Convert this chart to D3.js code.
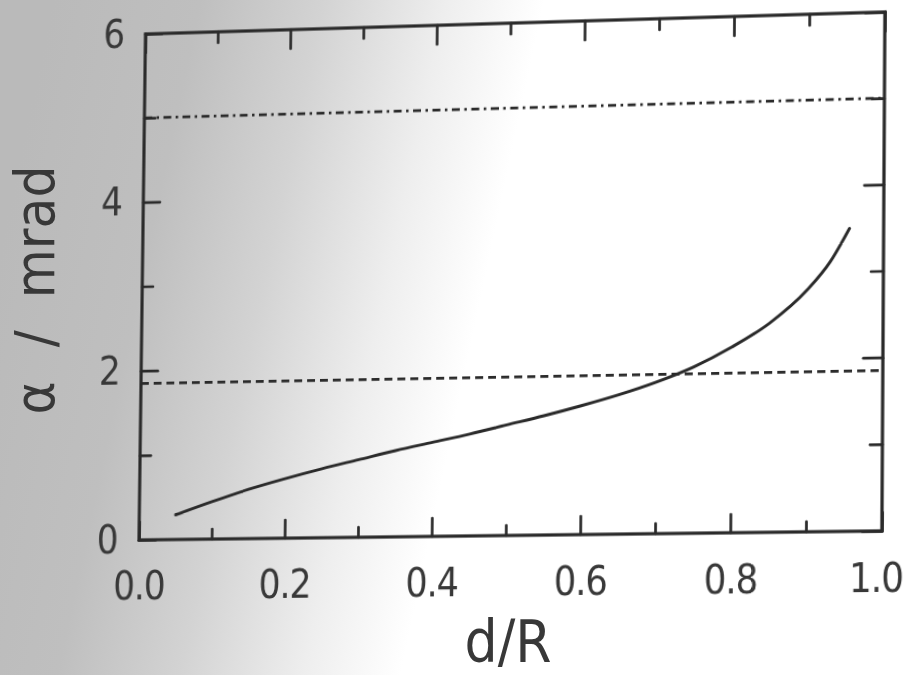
<!DOCTYPE html>
<html>
<head>
<meta charset="utf-8">
<script src="https://cdn.jsdelivr.net/npm/d3@7"></script>
<style>
  html, body { margin: 0; padding: 0; background: #fff; }
  #stage { position: relative; width: 908px; height: 675px; overflow: hidden; }
  #stage svg { position: absolute; left: 0; top: 0; overflow: visible; }
  #plot { transform-origin: 0 0; }
  text { font-family: "DejaVu Sans Condensed", "Liberation Sans Narrow", "DejaVu Sans", sans-serif; font-stretch: condensed; }
</style>
</head>
<body>
<div id="stage"></div>
<script>
// Beam deflection angle versus relative distance d/R
const ratio = [0.05, 0.10, 0.15, 0.20, 0.25, 0.30, 0.35, 0.40, 0.45, 0.50, 0.55, 0.60, 0.65, 0.70, 0.75, 0.80, 0.85, 0.90, 0.93, 0.955];
const alpha = [0.29, 0.44, 0.58, 0.70, 0.81, 0.91, 1.01, 1.10, 1.19, 1.29, 1.39, 1.50, 1.62, 1.76, 1.93, 2.15, 2.42, 2.80, 3.12, 3.50];

// Constant reference levels across the full range
const refRatio = [0.0, 1.0];
const dashDotAlpha = [5.0, 5.0];
const dashedAlpha = [1.85, 1.85];

// Ticks and labels
const xMajor = [0.0, 0.2, 0.4, 0.6, 0.8, 1.0];
const xMinor = [0.1, 0.3, 0.5, 0.7, 0.9];
const xLabels = ["0.0", "0.2", "0.4", "0.6", "0.8", "1.0"];
const yMajor = [0, 2, 4, 6];
const yMinor = [1, 3, 5];
const yLabels = ["0", "2", "4", "6"];
const xTitle = "d/R";
const yTitleParts = ["α", "/", "mrad"];

const width = 908, height = 675;
const ink = "#2a2a2a", textInk = "#383838";

// Frame in local plot coordinates
const L = 150, T = 30, R = 890, B = 535;

// Corners of the frame on the page (the printed page is slightly skewed)
const pageCorners = [[145.5, 34], [885, 12], [139, 540], [882, 531]];

const stage = d3.select("#stage");

// ---------- background sheet ----------
const bg = stage.append("svg").attr("width", width).attr("height", height);
const defs = bg.append("defs");
const grad = defs.append("linearGradient")
  .attr("id", "sheet").attr("gradientUnits", "userSpaceOnUse")
  .attr("x1", 0).attr("y1", 250).attr("x2", 470).attr("y2", 350);
[[0, "#bababa"], [0.3, "#bfbfbf"], [0.55, "#d3d3d3"], [0.8, "#eeeeee"], [1, "#ffffff"]]
  .forEach(([o, c]) => grad.append("stop").attr("offset", o).attr("stop-color", c));
bg.append("rect").attr("width", width).attr("height", height).attr("fill", "url(#sheet)");

// Axis titles
bg.append("text")
  .attr("x", 508).attr("y", 662)
  .attr("text-anchor", "middle")
  .attr("font-size", 58)
  .attr("fill", textInk)
  .text(xTitle);

const yTitle = bg.append("text")
  .attr("transform", "translate(54,290) rotate(-90)")
  .attr("text-anchor", "middle")
  .attr("font-size", 56)
  .attr("fill", textInk);
yTitle.append("tspan").text(yTitleParts[0]);
yTitle.append("tspan").attr("dx", 34).text(yTitleParts[1]);
yTitle.append("tspan").attr("dx", 32).text(yTitleParts[2]);

// ---------- plot (projected onto the skewed page) ----------
function solve(A, b) {
  const n = b.length;
  const M = A.map((row, i) => row.concat([b[i]]));
  for (let c = 0; c < n; c++) {
    let p = c;
    for (let r = c + 1; r < n; r++) if (Math.abs(M[r][c]) > Math.abs(M[p][c])) p = r;
    [M[c], M[p]] = [M[p], M[c]];
    for (let r = 0; r < n; r++) {
      if (r === c) continue;
      const f = M[r][c] / M[c][c];
      for (let k = c; k <= n; k++) M[r][k] -= f * M[c][k];
    }
  }
  return M.map((row, i) => row[n] / row[i]);
}
function homography(src, dst) {
  const A = [], b = [];
  src.forEach(([x, y], i) => {
    const [X, Y] = dst[i];
    A.push([x, y, 1, 0, 0, 0, -x * X, -y * X]); b.push(X);
    A.push([0, 0, 0, x, y, 1, -x * Y, -y * Y]); b.push(Y);
  });
  return solve(A, b);
}
const h = homography([[L, T], [R, T], [L, B], [R, B]], pageCorners);

const svg = stage.append("svg").attr("id", "plot")
  .attr("width", width).attr("height", height)
  .style("transform", `matrix3d(${h[0]},${h[3]},0,${h[6]},${h[1]},${h[4]},0,${h[7]},0,0,1,0,${h[2]},${h[5]},0,1)`);

const x = d3.scaleLinear().domain([0, 1]).range([L, R]);
const y = d3.scaleLinear().domain([0, 6]).range([B, T]);

function styleAxis(g) {
  g.select(".domain").remove();
  g.selectAll(".tick line").attr("stroke", ink).attr("stroke-width", 2.7).attr("stroke-linecap", "round");
  g.selectAll(".tick text").attr("fill", textInk).attr("font-size", 39)
    .attr("letter-spacing", -1).attr("font-family", null);
}

// bottom
svg.append("g").attr("transform", `translate(0,${B})`)
  .call(d3.axisBottom(x).tickValues(xMajor).tickSize(-18).tickPadding(31)
    .tickFormat(d => xLabels[xMajor.indexOf(d)]))
  .call(styleAxis)
  .call(g => g.selectAll(".tick text").filter(d => d === 1).attr("dx", -6));
svg.append("g").attr("transform", `translate(0,${B})`)
  .call(d3.axisBottom(x).tickValues(xMinor).tickSize(-10).tickFormat(""))
  .call(styleAxis);
// top
svg.append("g").attr("transform", `translate(0,${T})`)
  .call(d3.axisTop(x).tickValues(xMajor).tickSize(-19).tickFormat(""))
  .call(styleAxis);
svg.append("g").attr("transform", `translate(0,${T})`)
  .call(d3.axisTop(x).tickValues(xMinor).tickSize(-11).tickFormat(""))
  .call(styleAxis);
// left
svg.append("g").attr("transform", `translate(${L},0)`)
  .call(d3.axisLeft(y).tickValues(yMajor).tickSize(-17).tickPadding(22)
    .tickFormat(d => yLabels[yMajor.indexOf(d)]))
  .call(styleAxis);
svg.append("g").attr("transform", `translate(${L},0)`)
  .call(d3.axisLeft(y).tickValues(yMinor).tickSize(-11).tickFormat(""))
  .call(styleAxis);
// right
svg.append("g").attr("transform", `translate(${R},0)`)
  .call(d3.axisRight(y).tickValues(yMajor).tickSize(-19).tickFormat(""))
  .call(styleAxis);
svg.append("g").attr("transform", `translate(${R},0)`)
  .call(d3.axisRight(y).tickValues(yMinor).tickSize(-12).tickFormat(""))
  .call(styleAxis);

// frame
svg.append("rect")
  .attr("x", L).attr("y", T).attr("width", R - L).attr("height", B - T)
  .attr("fill", "none").attr("stroke", ink).attr("stroke-width", 3.2);

// reference levels
const refLine = d3.line().x(d => x(d[0])).y(d => y(d[1]));
svg.append("path")
  .datum(refRatio.map((r, i) => [r, dashDotAlpha[i]]))
  .attr("d", refLine)
  .attr("fill", "none").attr("stroke", ink).attr("stroke-width", 2.7)
  .attr("stroke-dasharray", "8,4.5,2.5,4.5");
svg.append("path")
  .datum(refRatio.map((r, i) => [r, dashedAlpha[i]]))
  .attr("d", refLine)
  .attr("fill", "none").attr("stroke", ink).attr("stroke-width", 2.7)
  .attr("stroke-dasharray", "8,5");

// computed deflection curve
svg.append("path")
  .datum(ratio.map((r, i) => [r, alpha[i]]))
  .attr("d", d3.line().x(d => x(d[0])).y(d => y(d[1])).curve(d3.curveMonotoneX))
  .attr("fill", "none").attr("stroke", ink).attr("stroke-width", 2.9)
  .attr("stroke-linecap", "round");
</script>
</body>
</html>
